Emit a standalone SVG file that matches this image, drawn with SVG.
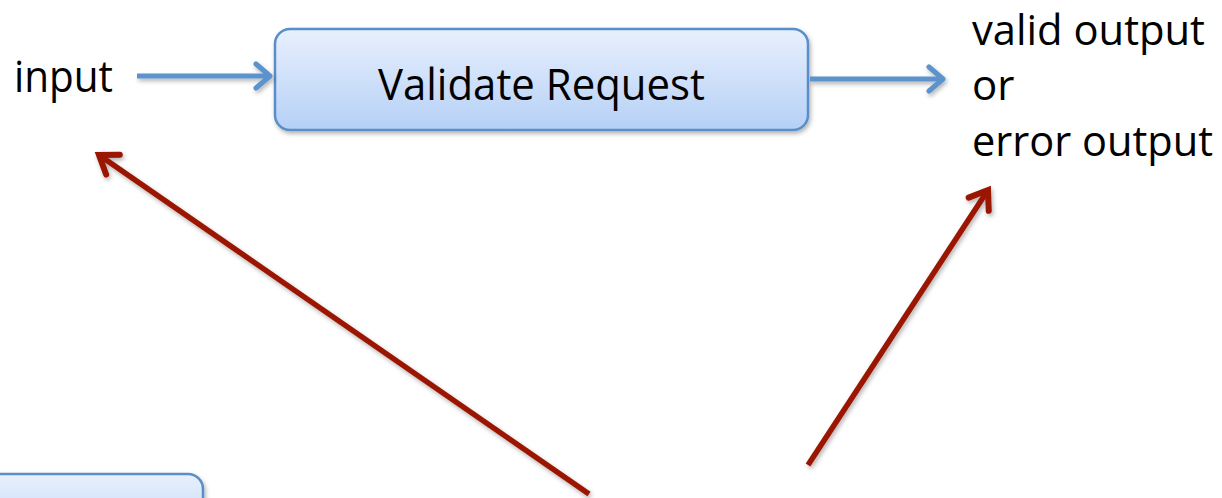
<svg xmlns="http://www.w3.org/2000/svg" width="1222" height="498" viewBox="0 0 1222 498">
<style>
.lbl{font-family:"Open Sans","Liberation Sans",sans-serif;font-size:43px;fill:#000}
.out{font-size:42px}
.box{stroke:#5a8ec8;stroke-width:2.5;filter:url(#sh)}
.blue{stroke:#5b93cc;stroke-width:5;fill:none;filter:url(#shu)}
.red{stroke:#9a1406;stroke-width:5.5;fill:none;filter:url(#shu)}
</style>
<defs>
<linearGradient id="g" x1="0" y1="0" x2="0" y2="1">
<stop offset="0" stop-color="#e8f0fd"/>
<stop offset="1" stop-color="#b5d0f6"/>
</linearGradient>
<filter id="sh" x="-20%" y="-20%" width="140%" height="140%">
<feDropShadow dx="1.5" dy="2.5" stdDeviation="2" flood-color="#000" flood-opacity="0.3"/>
</filter>
<filter id="shu" filterUnits="userSpaceOnUse" x="0" y="0" width="1222" height="498">
<feDropShadow dx="1.5" dy="2.5" stdDeviation="2" flood-color="#000" flood-opacity="0.3"/>
</filter>
<marker id="ab" markerUnits="userSpaceOnUse" markerWidth="30" markerHeight="30" refX="20" refY="15" orient="auto">
<path d="M6,3 L20,15 L6,27" fill="none" stroke="#5b93cc" stroke-width="5" stroke-linecap="round" stroke-linejoin="round"/>
</marker>
<marker id="ar" markerUnits="userSpaceOnUse" markerWidth="34" markerHeight="34" refX="23" refY="17" orient="auto">
<path d="M6,5 L23,17 L6,29" fill="none" stroke="#9a1406" stroke-width="6" stroke-linecap="round" stroke-linejoin="miter"/>
</marker>
</defs>
<g id="node-validate">
<rect class="box" x="275" y="29" width="533" height="101" rx="15" fill="url(#g)"/>
<text class="lbl" x="378" y="100" textLength="327" lengthAdjust="spacingAndGlyphs">Validate Request</text>
</g>
<g id="node-bottom">
<rect class="box" x="-30" y="474" width="233" height="80" rx="15" fill="url(#g)"/>
</g>
<g id="node-input">
<text class="lbl" x="14" y="92" textLength="99" lengthAdjust="spacingAndGlyphs">input</text>
</g>
<g id="node-output">
<text class="lbl out" x="972" y="45" textLength="233" lengthAdjust="spacingAndGlyphs">valid output</text>
<text class="lbl out" x="972" y="100">or</text>
<text class="lbl out" x="972" y="156" textLength="241" lengthAdjust="spacingAndGlyphs">error output</text>
</g>
<g id="connectors">
<line class="blue" x1="137" y1="76" x2="270" y2="76" marker-end="url(#ab)"/>
<line class="blue" x1="810" y1="79" x2="943" y2="79" marker-end="url(#ab)"/>
<line class="red" x1="589" y1="494" x2="99" y2="155" marker-end="url(#ar)"/>
<line class="red" x1="808" y1="465" x2="988" y2="190" marker-end="url(#ar)"/>
</g>
</svg>
